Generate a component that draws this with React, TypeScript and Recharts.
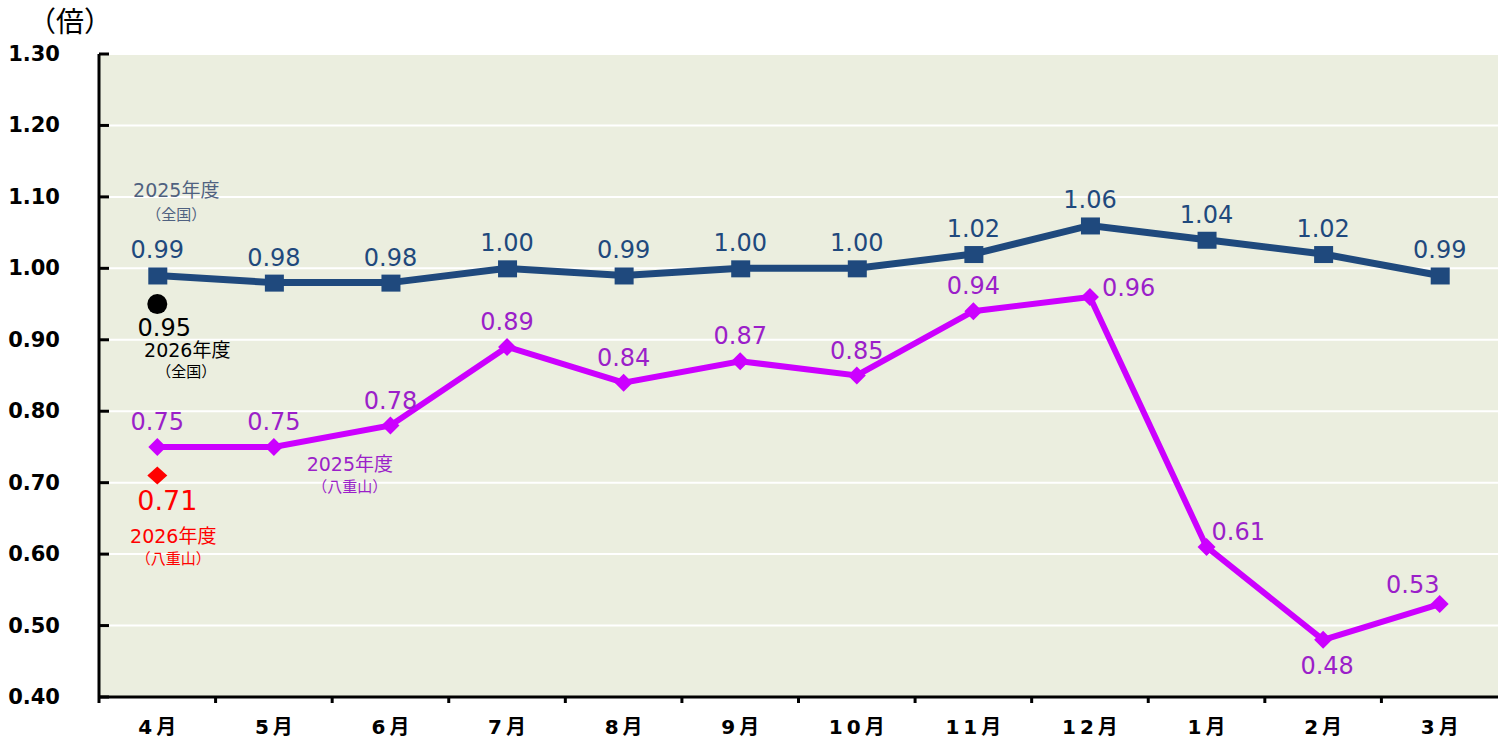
import React from 'react';
import { ComposedChart, Line, XAxis, YAxis, CartesianGrid, LabelList } from 'recharts';

const months = ['4月', '5月', '6月', '7月', '8月', '9月', '10月', '11月', '12月', '1月', '2月', '3月'];
const national2025 = [0.99, 0.98, 0.98, 1.0, 0.99, 1.0, 1.0, 1.02, 1.06, 1.04, 1.02, 0.99];
const yaeyama2025 = [0.75, 0.75, 0.78, 0.89, 0.84, 0.87, 0.85, 0.94, 0.96, 0.61, 0.48, 0.53];
const national2026 = [0.95];
const yaeyama2026 = [0.71];
const yTicks = [0.4, 0.5, 0.6, 0.7, 0.8, 0.9, 1.0, 1.1, 1.2, 1.3];

const W = 1498;
const H = 743;
const Y_AXIS_W = 99;
const BAND = (W - Y_AXIS_W) / months.length;

const FONT = '"DejaVu Sans", Verdana, "Noto Sans CJK JP", sans-serif';
const BLUE = '#1F497D';
const PURPLE_LINE = '#CC00FF';
const PURPLE_TEXT = '#9B1FC9';
const SLATE = '#4F6180';

const data = months.map((m, i) => ({
  month: m,
  national2025: national2025[i],
  yaeyama2025: yaeyama2025[i],
  national2026: national2026[i] ?? null,
  yaeyama2026: yaeyama2026[i] ?? null,
}));

const YTick = (props: any) => {
  const { x, y, payload } = props;
  return (
    <g>
      <line x1={x} x2={x + 10} y1={y} y2={y} stroke="#000" strokeWidth={3} />
      <text x={x - 39} y={y + 7} textAnchor="end" fontFamily={FONT} fontWeight="bold" fontSize={21} fill="#000">
        {payload.value.toFixed(2)}
      </text>
    </g>
  );
};

const XTick = (props: any) => {
  const { x, y, payload } = props;
  const left = x - BAND / 2;
  return (
    <g>
      <line x1={left} x2={left} y1={y} y2={y + 6} stroke="#000" strokeWidth={3} />
      <text x={x + 2} y={y + 37} textAnchor="middle" fontFamily={FONT} fontWeight="bold" fontSize={20} letterSpacing={4} fill="#000">
        {payload.value}
      </text>
    </g>
  );
};

const squareDot = (p: any) => {
  if (p.cx == null || p.cy == null || p.value == null) return <g key={`s${p.index}`} />;
  return <rect key={`s${p.index}`} x={p.cx - 9} y={p.cy - 8} width={19} height={17} fill={BLUE} />;
};

const diamondDot = (color: string, hw: number, hh: number) => (p: any) => {
  if (p.cx == null || p.cy == null || p.value == null) return <g key={`d${p.index}`} />;
  const { cx, cy } = p;
  return (
    <polygon
      key={`d${p.index}`}
      points={`${cx - hw},${cy} ${cx},${cy - hh} ${cx + hw},${cy} ${cx},${cy + hh}`}
      fill={color}
    />
  );
};

const circleDot = (p: any) => {
  if (p.cx == null || p.cy == null || p.value == null) return <g key={`c${p.index}`} />;
  return <circle key={`c${p.index}`} cx={p.cx} cy={p.cy} r={10} fill="#000" />;
};

const nationalLabel = (p: any) => {
  const { x, y, value, index } = p;
  return (
    <g>
      <text x={x} y={y - 17} textAnchor="middle" fontFamily={FONT} fontSize={24} fill={BLUE}>
        {Number(value).toFixed(2)}
      </text>
      {index === 0 && (
        <g fontFamily={FONT} fill={SLATE} textAnchor="middle">
          <text x={x + 19} y={y - 78} fontSize={19}>2025年度</text>
          <text x={x + 19} y={y - 55} fontSize={15}>（全国）</text>
        </g>
      )}
    </g>
  );
};

const yaeyamaLabel = (p: any) => {
  const { x, y, value, index } = p;
  let tx = x;
  let ty = y - 17;
  let anchor = 'middle';
  if (index === 8) { tx = x + 12; ty = y - 1; anchor = 'start'; }
  if (index === 9) { tx = x + 5; ty = y - 7; anchor = 'start'; }
  if (index === 10) { tx = x + 4; ty = y + 34; }
  if (index === 11) { tx = x - 27; ty = y - 11; }
  return (
    <g>
      <text x={tx} y={ty} textAnchor={anchor} fontFamily={FONT} fontSize={24} fill={PURPLE_TEXT}>
        {Number(value).toFixed(2)}
      </text>
      {index === 1 && (
        <g fontFamily={FONT} fill={PURPLE_TEXT} textAnchor="middle">
          <text x={x + 76} y={y + 24} fontSize={19}>2025年度</text>
          <text x={x + 76} y={y + 45} fontSize={15}>（八重山）</text>
        </g>
      )}
    </g>
  );
};

const national2026Label = (p: any) => {
  const { x, y, value } = p;
  if (value == null) return null;
  return (
    <g fontFamily={FONT} fill="#000" textAnchor="middle">
      <text x={x + 7} y={y + 32} fontSize={24}>{Number(value).toFixed(2)}</text>
      <text x={x + 30} y={y + 53} fontSize={19}>2026年度</text>
      <text x={x + 29} y={y + 73} fontSize={15}>（全国）</text>
    </g>
  );
};

const yaeyama2026Label = (p: any) => {
  const { x, y, value } = p;
  if (value == null) return null;
  return (
    <g fontFamily={FONT} fill="#FF0000" textAnchor="middle">
      <text x={x + 10} y={y + 34} fontSize={27}>{Number(value).toFixed(2)}</text>
      <text x={x + 16} y={y + 67} fontSize={19}>2026年度</text>
      <text x={x + 16} y={y + 88} fontSize={15}>（八重山）</text>
    </g>
  );
};

export default function App() {
  return (
    <div style={{ position: 'absolute', left: 0, top: 0, width: W, height: H, overflow: 'hidden', background: '#fff' }}>
      <div style={{ position: 'absolute', left: 28, top: 0, fontFamily: FONT, fontSize: 28, color: '#000' }}>（倍）</div>
      <ComposedChart width={W} height={H} data={data} margin={{ top: 54, right: 0, bottom: 0, left: 0 }}>
        <CartesianGrid vertical={false} stroke="#FFFFFF" strokeWidth={2} fill="#EBEEDF" />
        <XAxis
          dataKey="month"
          scale="band"
          height={46}
          axisLine={{ stroke: '#000', strokeWidth: 3 }}
          tickLine={false}
          tickSize={0}
          tickMargin={0}
          tick={<XTick />}
          interval={0}
        />
        <YAxis
          width={Y_AXIS_W}
          domain={[0.4, 1.3]}
          ticks={yTicks}
          axisLine={{ stroke: '#000', strokeWidth: 3 }}
          tickLine={false}
          tickSize={0}
          tickMargin={0}
          tick={<YTick />}
          interval={0}
        />
        <Line dataKey="national2025" stroke={BLUE} strokeWidth={7} dot={squareDot} activeDot={false} isAnimationActive={false}>
          <LabelList dataKey="national2025" content={nationalLabel} />
        </Line>
        <Line dataKey="yaeyama2025" stroke={PURPLE_LINE} strokeWidth={6} dot={diamondDot(PURPLE_LINE, 9, 9)} activeDot={false} isAnimationActive={false}>
          <LabelList dataKey="yaeyama2025" content={yaeyamaLabel} />
        </Line>
        <Line dataKey="national2026" stroke="none" dot={circleDot} activeDot={false} isAnimationActive={false}>
          <LabelList dataKey="national2026" content={national2026Label} />
        </Line>
        <Line dataKey="yaeyama2026" stroke="none" dot={diamondDot('#FF0000', 10, 9)} activeDot={false} isAnimationActive={false}>
          <LabelList dataKey="yaeyama2026" content={yaeyama2026Label} />
        </Line>
      </ComposedChart>
    </div>
  );
}
